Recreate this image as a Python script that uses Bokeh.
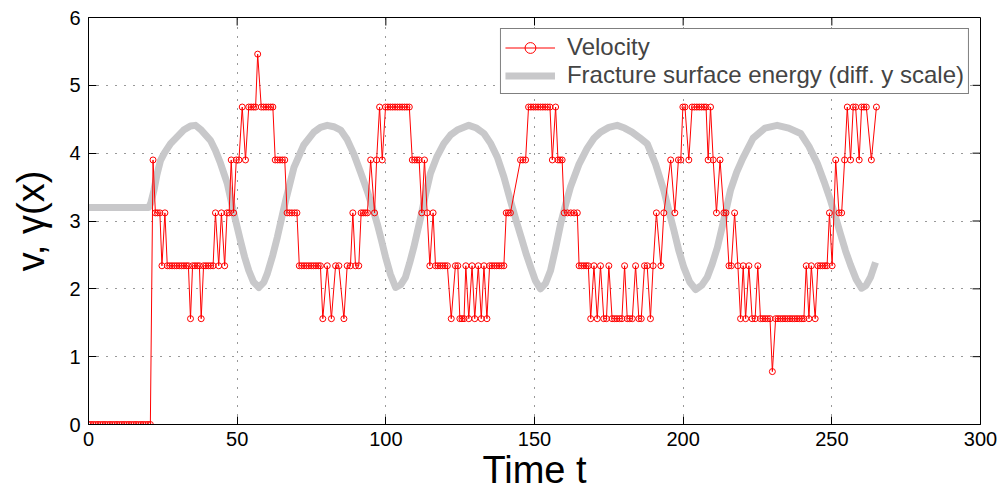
from bokeh.plotting import figure
from bokeh.models import Range1d, FixedTicker, Legend, LegendItem
from bokeh.embed import file_html
from bokeh.resources import INLINE

# ---------------- data ----------------
x_ticks = [0, 50, 100, 150, 200, 250, 300]
y_ticks = [0, 1, 2, 3, 4, 5, 6]

vel_time = [
    0.0, 0.8, 1.6, 2.4, 3.2, 4.0, 4.8, 5.6, 6.4, 7.2, 8.0, 8.8, 9.6, 10.4, 11.2, 12.0,
    12.8, 13.6, 14.4, 15.2, 16.0, 16.8, 17.6, 18.4, 19.2, 20.0, 20.8,
    21.7, 22.5, 23.2, 24.0, 24.7, 25.7, 26.5, 27.3, 28.1, 28.9, 29.7, 30.5, 31.3, 32.1,
    32.9, 33.6, 34.3, 35.0, 35.8, 36.6, 37.3, 37.9, 38.7, 39.5, 40.3, 41.1, 41.9,
    42.7, 43.8, 44.7, 45.8, 46.6, 47.3, 48.0, 48.8, 49.7, 50.6, 51.7, 52.8, 53.9, 54.7,
    55.5, 56.2, 56.9, 58.1, 58.9, 59.7, 60.5, 61.3, 62.0, 62.8, 63.6, 64.4, 65.2, 66.0,
    66.8, 67.6, 68.4, 69.3, 70.1,
    70.9, 71.7, 72.5, 73.3, 74.1, 74.9, 75.7, 76.5, 77.3, 78.0, 78.8, 80.3, 81.7, 83.1,
    84.2, 85.9, 87.0, 88.1, 88.9, 89.8, 90.9, 91.7, 92.4, 93.1, 93.8, 94.9, 96.2, 96.9,
    97.9, 98.8,
    99.9, 100.7, 101.5, 102.3, 103.1, 103.9, 104.7, 105.5, 106.3, 107.1, 107.9, 108.9,
    109.7, 110.5, 111.2, 112.1, 113.0, 113.9, 114.8, 115.9, 116.7, 117.5, 118.3, 119.1,
    119.9, 120.7,
    122.0, 123.4, 124.2, 124.9, 125.6, 126.3, 126.9, 127.9, 129.0, 129.9, 131.1, 132.1,
    133.0, 134.0, 134.9, 135.7, 136.5, 137.3, 138.1, 138.9, 139.7, 140.5, 141.2, 141.9,
    145.3, 146.1, 147.0, 148.0, 148.8, 149.6, 150.4, 151.2, 152.0, 152.8, 153.6, 154.4,
    155.2, 156.0, 157.1, 157.9, 158.6, 159.3, 160.0, 161.1, 162.2, 163.3, 164.4, 165.0,
    165.8, 166.6, 167.4, 168.1,
    168.9, 170.0, 171.1, 172.2, 173.3, 174.2, 175.0, 176.1, 176.9, 177.7, 178.6, 179.4,
    180.3, 181.2, 182.0, 182.9, 184.0, 185.1, 185.9, 187.0, 187.9, 189.0, 189.9, 191.0,
    192.5, 193.5,
    195.8, 197.2, 198.4, 199.2, 199.9, 200.6, 201.9, 203.0, 203.8, 204.6, 205.4, 206.2,
    207.0, 207.7, 208.4, 209.2, 210.1, 211.2, 212.4, 213.7, 214.4, 215.4, 216.2, 217.3,
    218.4, 219.3,
    220.2, 221.0, 222.1, 223.2, 224.2, 225.1, 226.0, 226.8, 227.6, 228.4, 229.2, 230.0,
    231.1, 231.9, 232.7, 233.5, 234.3, 235.1, 235.9, 236.7, 237.5, 238.3, 239.1, 239.9,
    240.6, 241.4, 242.3, 243.1, 244.4, 245.3, 246.1, 246.9, 247.7, 248.4, 249.2, 250.1,
    251.3, 252.4, 253.3, 254.3, 255.2, 256.3, 257.2, 258.0, 259.2, 260.0, 260.8, 261.6,
    263.3, 265.0,
]

vel_value = [
    0, 0, 0, 0, 0, 0, 0, 0, 0, 0, 0, 0, 0, 0, 0, 0, 0, 0, 0, 0, 0, 0, 0, 0, 0, 0, 0,
    3.90, 3.12, 3.12, 3.12, 2.34, 3.12, 2.34, 2.34, 2.34, 2.34, 2.34, 2.34, 2.34, 2.34,
    2.34, 2.34, 1.56, 2.34, 2.34, 2.34, 2.34, 1.56, 2.34, 2.34, 2.34, 2.34, 2.34,
    3.12, 2.34, 3.12, 2.34, 3.12, 3.12, 3.90, 3.12, 3.90, 3.90, 4.68, 3.90, 4.68, 4.68,
    4.68, 4.68, 5.46, 4.68, 4.68, 4.68, 4.68, 4.68, 4.68, 3.90, 3.90, 3.90, 3.90, 3.90,
    3.12, 3.12, 3.12, 3.12, 3.12,
    2.34, 2.34, 2.34, 2.34, 2.34, 2.34, 2.34, 2.34, 2.34, 2.34, 1.56, 2.34, 1.56, 2.34,
    2.34, 1.56, 2.34, 2.34, 3.12, 2.34, 2.34, 3.12, 3.12, 3.12, 3.12, 3.90, 3.12, 3.90,
    4.68, 3.90,
    4.68, 4.68, 4.68, 4.68, 4.68, 4.68, 4.68, 4.68, 4.68, 4.68, 4.68, 3.90,
    3.90, 3.90, 3.90, 3.12, 3.90, 3.12, 2.34, 3.12, 2.34, 2.34, 2.34, 2.34,
    2.34, 2.34,
    1.56, 2.34, 2.34, 1.56, 1.56, 1.56, 2.34, 1.56, 2.34, 1.56, 2.34, 1.56,
    2.34, 1.56, 2.34, 2.34, 2.34, 2.34, 2.34, 2.34, 2.34, 3.12, 3.12, 3.12,
    3.90, 3.90, 3.90, 4.68, 4.68, 4.68, 4.68, 4.68, 4.68, 4.68, 4.68, 4.68,
    4.68, 3.90, 4.68, 3.90, 3.90, 3.90, 3.12, 3.12, 3.12, 3.12, 3.12, 2.34,
    2.34, 2.34, 2.34, 2.34,
    1.56, 2.34, 1.56, 2.34, 1.56, 1.56, 2.34, 1.56, 1.56, 1.56, 1.56, 1.56,
    2.34, 1.56, 1.56, 1.56, 2.34, 1.56, 1.56, 2.34, 2.34, 1.56, 2.34, 3.12,
    2.34, 3.12,
    3.90, 3.12, 3.90, 3.90, 4.68, 4.68, 3.90, 4.68, 4.68, 4.68, 4.68, 4.68,
    4.68, 4.68, 3.90, 4.68, 3.90, 3.12, 3.90, 3.12, 3.12, 2.34, 2.34, 3.12,
    2.34, 1.56,
    2.34, 1.56, 2.34, 1.56, 1.56, 2.34, 1.56, 1.56, 1.56, 1.56, 1.56, 0.78,
    1.56, 1.56, 1.56, 1.56, 1.56, 1.56, 1.56, 1.56, 1.56, 1.56, 1.56, 1.56,
    1.56, 2.34, 1.56, 2.34, 1.56, 2.34, 2.34, 2.34, 2.34, 2.34, 3.12, 2.34,
    3.90, 3.12, 3.12, 3.90, 4.68, 3.90, 4.68, 4.68, 3.90, 4.68, 4.68, 4.68,
    3.90, 4.68,
]

energy_time = [
    0.0, 20.3, 21.0, 22.0, 23.0, 24.2, 25.5, 27.6, 29.8, 32.0, 34.3, 36.0, 37.7, 41.0,
    42.7, 44.4, 46.7, 48.9, 51.1, 52.5, 53.9, 55.5, 57.3, 59.0, 60.1, 62.0, 63.5, 66.3,
    69.1, 72.4, 75.8, 78.0, 80.3, 82.5, 84.8, 87.0, 89.2, 91.5, 93.7, 95.5, 97.1, 98.5,
    99.9, 101.5, 103.3, 105.0, 106.6, 108.0, 109.4, 111.7, 113.3, 115.0, 117.2, 119.5,
    121.8, 124.0, 127.9, 130.5, 133.0, 135.3, 137.5, 139.7, 141.9, 144.0, 145.8, 147.3,
    148.7, 150.3, 152.0, 153.7, 155.4, 157.1, 158.8, 160.5, 162.1, 164.9, 167.7, 170.0,
    172.2, 175.0, 177.8, 180.3, 182.8, 185.3, 187.9, 190.7, 193.5, 195.2, 196.9, 198.5,
    200.2, 202.2, 204.2, 206.2, 208.1, 209.8, 211.5, 213.7, 215.9, 218.0, 220.0, 223.5,
    227.5, 231.6, 235.5, 239.5, 242.3, 245.1, 247.4, 249.6, 251.3, 252.9, 254.6, 256.3,
    258.2, 260.0, 261.5, 263.0, 264.7,
]
energy_value = [
    3.20, 3.20, 3.27, 3.45, 3.68, 3.89, 4.00, 4.14, 4.24, 4.34, 4.40, 4.41, 4.35, 4.19,
    4.04, 3.85, 3.55, 3.11, 2.71, 2.47, 2.27, 2.10, 2.02, 2.10, 2.22, 2.50, 2.76, 3.30,
    3.79, 4.12, 4.31, 4.38, 4.41, 4.39, 4.34, 4.20, 3.99, 3.72, 3.45, 3.20, 2.96, 2.72,
    2.47, 2.22, 2.02, 2.06, 2.17, 2.38, 2.61, 3.05, 3.38, 3.70, 3.95, 4.14,
    4.27, 4.34, 4.41, 4.37, 4.29, 4.14, 3.94, 3.65, 3.30, 2.98, 2.72, 2.50,
    2.32, 2.12, 2.00, 2.08, 2.27, 2.60, 2.96, 3.25, 3.50, 3.83, 4.07, 4.22,
    4.31, 4.38, 4.41, 4.37, 4.31, 4.23, 4.14, 3.84, 3.45, 3.15, 2.86, 2.57,
    2.32, 2.10, 1.99, 2.05, 2.17, 2.37, 2.61, 3.02, 3.45, 3.72, 3.92, 4.22,
    4.37, 4.41, 4.37, 4.29, 4.10, 3.85, 3.58, 3.30, 3.05, 2.81, 2.56, 2.35,
    2.14, 2.01, 2.05, 2.17, 2.39,
]

assert len(vel_time) == len(vel_value), (len(vel_time), len(vel_value))
assert len(energy_time) == len(energy_value), (len(energy_time), len(energy_value))

label_velocity = "Velocity"
label_energy = "Fracture surface energy (diff. y scale)"
x_title = "Time t"
y_title = "v, \u03b3(x)"

# ---------------- figure ----------------
FONT = "Liberation Sans"
W, H = 998, 495
LEFT, RIGHT, TOP, BOTTOM = 88, 18, 17, 71
TICK = 8  # inward tick length, px

p = figure(width=W, height=H, output_backend="svg", toolbar_location=None,
           x_range=Range1d(0, 300), y_range=Range1d(0, 6),
           min_border_left=LEFT, min_border_right=RIGHT, min_border_top=TOP,
           min_border_bottom=BOTTOM)
p.background_fill_color = "white"
p.border_fill_color = "white"
p.outline_line_color = "black"
p.outline_line_width = 1

for ax, ticks in ((p.xaxis[0], x_ticks), (p.yaxis[0], y_ticks)):
    ax.ticker = FixedTicker(ticks=ticks)
    ax.major_tick_in = TICK
    ax.major_tick_out = 0
    ax.minor_tick_line_color = None
    ax.axis_line_color = "black"
    ax.major_tick_line_color = "black"
    ax.major_label_text_font = FONT
    ax.major_label_text_font_size = "20px"
    ax.major_label_text_color = "black"
    ax.major_label_standoff = 8
    ax.axis_label_text_font = FONT
    ax.axis_label_text_font_style = "normal"
    ax.axis_label_text_font_size = "38px"
    ax.axis_label_text_color = "black"

p.xaxis.axis_label = x_title
p.xaxis.major_label_standoff = 7
p.xaxis.axis_label_standoff = 0
p.yaxis.axis_label = y_title
p.yaxis.axis_label_standoff = 14

p.xgrid.ticker = FixedTicker(ticks=x_ticks)
p.ygrid.ticker = FixedTicker(ticks=y_ticks)
for g in (p.xgrid[0], p.ygrid[0]):
    g.grid_line_color = "#333333"
    g.grid_line_dash = "1 8"
    g.grid_line_width = 1

# inward ticks on the top and right edges of the box
fw = W - LEFT - RIGHT
fh = H - TOP - BOTTOM
dx = TICK * 300 / fw
dy = TICK * 6 / fh
top_ticks = x_ticks[1:-1]
right_ticks = y_ticks[1:-1]
p.segment(x0=top_ticks, y0=[6] * len(top_ticks), x1=top_ticks,
          y1=[6 - dy] * len(top_ticks), line_color="black", line_width=1)
p.segment(x0=[300] * len(right_ticks), y0=right_ticks, x1=[300 - dx] * len(right_ticks),
          y1=right_ticks, line_color="black", line_width=1)

energy_r = p.line(energy_time, energy_value, line_color="#c8c8ca", line_width=7,
                  line_join="round", line_cap="butt")
vel_line = p.line(vel_time, vel_value, line_color="#ff0000", line_width=1)
vel_pts = p.scatter(vel_time, vel_value, marker="circle", size=6,
                    line_color="#ff0000", fill_color=None, line_width=1)

legend = Legend(items=[LegendItem(label=label_velocity, renderers=[vel_line, vel_pts]),
                       LegendItem(label=label_energy, renderers=[energy_r])],
                location="top_right", margin=11, padding=4, spacing=0,
                glyph_width=50, glyph_height=27, label_standoff=12,
                label_text_font=FONT, label_text_font_size="24px",
                border_line_color="black", border_line_width=1,
                background_fill_color="white", background_fill_alpha=1)
p.add_layout(legend)

open("out.html", "w").write(file_html(p, INLINE))
